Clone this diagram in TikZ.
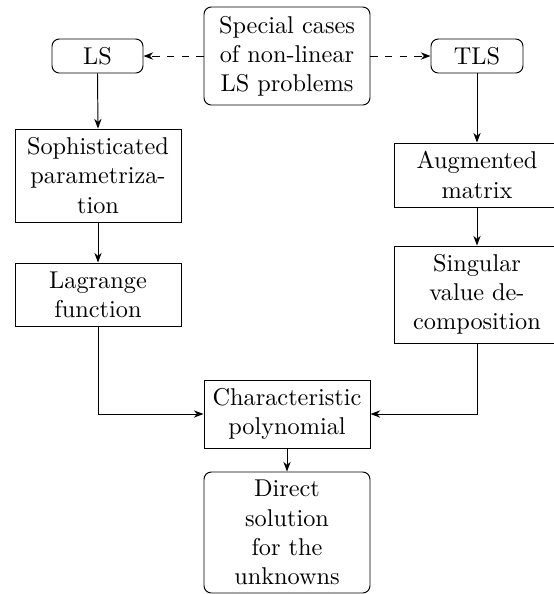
\documentclass[tikz,border=0pt]{standalone}
\usetikzlibrary{arrows.meta}
\begin{document}
\begin{tikzpicture}[x=0.4115pt,y=-0.4115pt,
  box/.style={draw, inner sep=0pt, align=center, minimum width=166*0.4115pt},
  rbox/.style={box, rounded corners=3pt},
  arr/.style={-{Stealth[length=4pt,width=3pt]}},
  darr/.style={arr, dashed}]
\clip (0,0) rectangle (554,594);
\node[rbox, minimum width=91*0.4115pt, minimum height=34*0.4115pt] (ls) at (97.5,56) {LS};
\node[rbox, minimum height=98*0.4115pt] (sp) at (287,56) {Special cases\\of non-linear\\LS problems};
\node[rbox, minimum width=92*0.4115pt, minimum height=34*0.4115pt] (tls) at (477,56) {TLS};
\node[box, minimum height=93*0.4115pt] (soph) at (98,175.5) {Sophisticated\\parametriza-\\tion};
\node[box, minimum height=63*0.4115pt] (lag) at (98,294.5) {Lagrange\\function};
\node[box, minimum height=64*0.4115pt] (aug) at (477,175) {Augmented\\matrix};
\node[box, minimum height=97*0.4115pt] (svd) at (477,294.5) {Singular\\value de-\\composition};
\node[box, minimum height=68*0.4115pt] (char) at (287,414) {Characteristic\\polynomial};
\node[rbox, minimum height=121*0.4115pt] (dir) at (287,532.5) {Direct\\solution\\for the\\unknowns};
\draw[darr] (sp.west) -- (ls.east);
\draw[darr] (sp.east) -- (tls.west);
\draw[arr] (ls.south) -- (soph.north);
\draw[arr] (soph.south) -- (lag.north);
\draw[arr] (tls.south) -- (aug.north);
\draw[arr] (aug.south) -- (svd.north);
\draw[arr] (lag.south) |- (char.west);
\draw[arr] (svd.south) |- (char.east);
\draw[arr] (char.south) -- (dir.north);
\end{tikzpicture}
\end{document}
